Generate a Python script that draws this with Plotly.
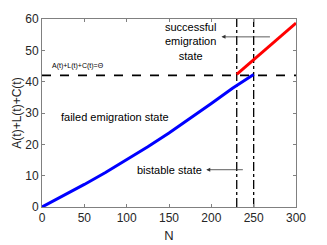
import plotly.graph_objects as go

# data
N_failed = [0, 25, 50, 75, 100, 125, 150, 175, 200, 225, 250]
S_failed = [0, 3.5, 7.2, 11.0, 15.0, 19.2, 23.6, 28.2, 33.0, 37.9, 42.3]
N_success = [230, 250, 275, 300]
S_success = [42.3, 47.0, 52.8, 58.7]
theta = 42
N_bistable = [230, 250]
x_ticks = [0, 50, 100, 150, 200, 250, 300]
y_ticks = [0, 10, 20, 30, 40, 50, 60]

FONT = "Liberation Sans, Arial, sans-serif"

fig = go.Figure()
fig.add_trace(go.Scatter(x=[0, 300], y=[theta, theta], mode="lines",
                         line=dict(color="black", width=1.6, dash="dash"), showlegend=False))
for nb in N_bistable:
    fig.add_trace(go.Scatter(x=[nb, nb], y=[0, 60], mode="lines",
                             line=dict(color="black", width=1.3, dash="dashdot"), showlegend=False))
fig.add_trace(go.Scatter(x=N_failed, y=S_failed, mode="lines",
                         line=dict(color="#0000ff", width=3), showlegend=False))
fig.add_trace(go.Scatter(x=N_success, y=S_success, mode="lines",
                         line=dict(color="#ff0000", width=3), showlegend=False))

fig.add_annotation(x=9, y=45, text="A(t)+L(t)+C(t)=Θ", showarrow=False, xanchor="left",
                   font=dict(size=7, color="black", family=FONT))
fig.add_annotation(x=86, y=28.7, text="failed emigration state", showarrow=False,
                   font=dict(size=11, color="black", family=FONT))
fig.add_annotation(x=175, y=52.8, text="successful<br>emigration<br>state", showarrow=False,
                   font=dict(size=11, color="black", family=FONT))
fig.add_annotation(x=151, y=11.9, text="bistable state", showarrow=False,
                   font=dict(size=11, color="black", family=FONT))
fig.add_annotation(x=212, y=54.3, ax=271, ay=54.3, axref="x", ayref="y", text="",
                   showarrow=True, arrowhead=2, arrowsize=1, arrowwidth=0.8, arrowcolor="#333333")
fig.add_annotation(x=194, y=11.9, ax=239, ay=11.9, axref="x", ayref="y", text="",
                   showarrow=True, arrowhead=2, arrowsize=1, arrowwidth=0.8, arrowcolor="#333333")

axis_common = dict(showgrid=False, zeroline=False, showline=True, linecolor="#808080",
                   linewidth=1, mirror="ticks", ticks="inside", ticklen=3, tickcolor="#808080",
                   automargin=False,
                   tickfont=dict(size=12, color="#262626", family=FONT))
fig.update_xaxes(range=[0, 300], tickvals=x_ticks, title=dict(text="N", standoff=6,
                 font=dict(size=13, color="#262626", family=FONT)), **axis_common)
fig.update_yaxes(range=[0, 60], tickvals=y_ticks, title=dict(text="A(t)+L(t)+C(t)", standoff=1,
                 font=dict(size=12, color="#262626", family=FONT)), **axis_common)
fig.update_layout(width=327, height=245, margin=dict(l=34, r=39, t=11, b=46),
                  plot_bgcolor="white", paper_bgcolor="white")
fig.write_html("out.html")
